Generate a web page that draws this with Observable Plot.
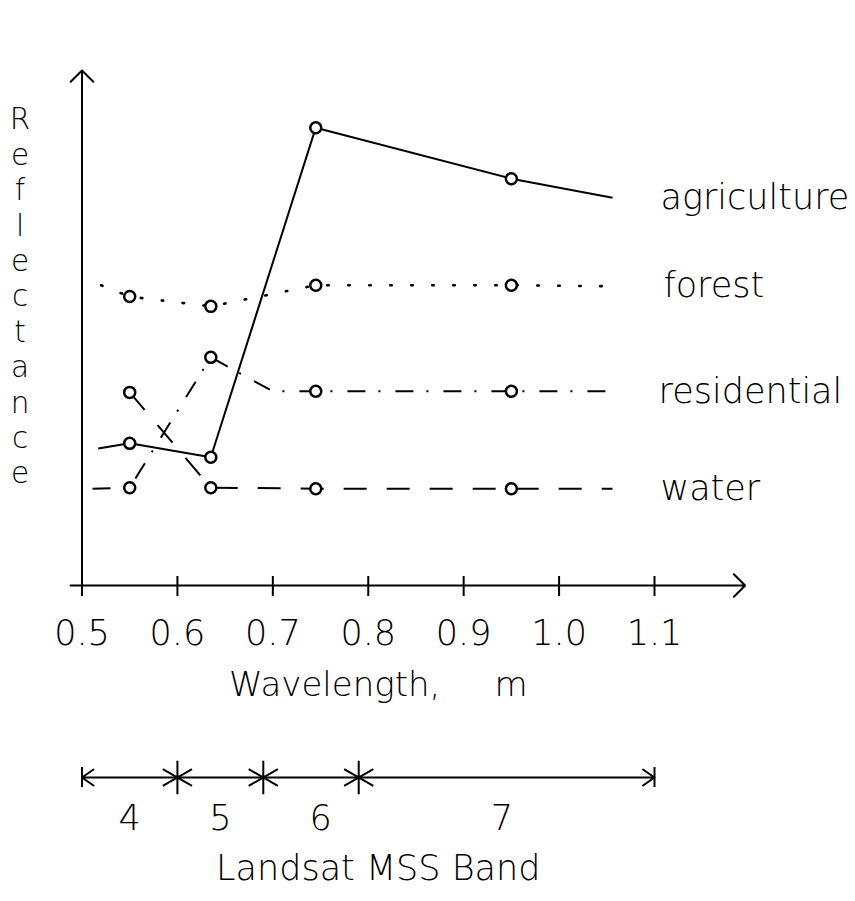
<!DOCTYPE html>
<html><head><meta charset="utf-8">
<script src="https://cdn.jsdelivr.net/npm/d3@7"></script>
<script src="https://cdn.jsdelivr.net/npm/@observablehq/plot@0.6"></script>
<style>
body{margin:0;background:#fff;}
#chart{width:855px;}
#chart svg{display:block;}
</style></head><body><div id="chart"></div>
<script>
// ---- data ----
const seriesNames = ["agriculture", "forest", "residential", "water"];
const agricultureX = [0.517, 0.55, 0.635, 0.745, 0.95, 1.056];
const agricultureY = [26.6, 27.6, 24.9, 88.9, 79.0, 75.3];
const forestX = [0.52, 0.55, 0.635, 0.745, 0.95, 1.059];
const forestY = [58.3, 56.1, 54.2, 58.3, 58.3, 58.1];
const residentialX = [0.511, 0.55, 0.635, 0.70, 0.745, 0.95, 1.054];
const residentialY = [18.8, 19.0, 44.3, 37.7, 37.7, 37.7, 37.7];
const waterX = [0.55, 0.635, 0.745, 0.95, 1.056];
const waterY = [37.5, 19.0, 18.8, 18.8, 18.8];
const bandCenters = [0.55, 0.635, 0.745, 0.95];
const xTicks = [0.5, 0.6, 0.7, 0.8, 0.9, 1.0, 1.1];
const xTickLabels = ["0.5", "0.6", "0.7", "0.8", "0.9", "1.0", "1.1"];
const bandEdges = [0.5, 1.1];
const bandBreaks = [0.6, 0.69, 0.79];
const bandNames = ["4", "5", "6", "7"];
const bandLabelX = [0.55, 0.645, 0.75, 0.94];
const xLabel = "Wavelength,\u00a0\u00a0\u00a0\u00a0\u00a0m";
const yLabel = "Reflectance";
const bandLabel = "Landsat MSS Band";
const xAxisExtent = [0.488, 1.195];
const yAxisExtent = [0, 100];

// ---- build tables ----
const xs = {agriculture: agricultureX, forest: forestX, residential: residentialX, water: waterX};
const ys = {agriculture: agricultureY, forest: forestY, residential: residentialY, water: waterY};
const rows = seriesNames.flatMap(s => xs[s].map((x, i) => ({series: s, x, y: ys[s][i]})));
const markers = rows.filter(d => bandCenters.includes(d.x));
const dashes = {agriculture: null, forest: "1.5,19.5", residential: "18,13,2,15", water: "23,20"};

const FONT = "DejaVu Sans";
const W = 855;

const lineMarks = seriesNames.map(s => Plot.line(rows.filter(d => d.series === s), {
  x: "x", y: "y", stroke: "black", strokeWidth: s === "forest" ? 2.6 : 2,
  strokeDasharray: dashes[s], strokeLinecap: s === "forest" ? "round" : "butt"
}));

const main = Plot.plot({
  width: W, height: 730,
  marginLeft: 81.5, marginRight: W - 654, marginTop: 70, marginBottom: 145,
  style: {fontFamily: FONT, fontWeight: 200, background: "white", color: "black", overflow: "visible"},
  x: {type: "linear", domain: [0.5, 1.1]},
  y: {type: "linear", domain: [0, 100], axis: null},
  marks: [
    ...lineMarks,
    Plot.dot(markers, {x: "x", y: "y", r: 5.5, stroke: "black", strokeWidth: 2.5, fill: "white"}),
    Plot.arrow([{x1: xAxisExtent[0], x2: xAxisExtent[1], y1: 0, y2: 0}],
      {x1: "x1", x2: "x2", y1: "y1", y2: "y2", stroke: "black", strokeWidth: 2, headLength: 12, headAngle: 90}),
    Plot.arrow([{x: 0.5, y1: yAxisExtent[0], y2: yAxisExtent[1]}],
      {x1: "x", x2: "x", y1: "y1", y2: "y2", stroke: "black", strokeWidth: 2, headLength: 12, headAngle: 90}),
    Plot.tickX(xTicks, {x: d => d, stroke: "black", strokeWidth: 2, insetTop: 506, insetBottom: -11}),
    Plot.axisX(xTicks, {tickSize: 0, tickPadding: 35, fontSize: 35, label: null,
      tickFormat: d => xTickLabels[xTicks.indexOf(d)]}),
    Plot.text([xLabel], {frameAnchor: "bottom", dx: 10, dy: 110, fontSize: 34, fill: "black"}),
    Plot.text([yLabel.split("").join("\n")], {frameAnchor: "left", dx: -62, dy: -33,
      lineHeight: 1.2, fontSize: 29.5, fill: "black", textAnchor: "middle"}),
    Plot.text(rows, Plot.selectLast({x: "x", y: "y", z: "series", text: "series",
      dx: 48, textAnchor: "start", fontSize: 35, fill: "black"}))
  ]
});

const band = Plot.plot({
  width: W, height: 171,
  marginLeft: 81.5, marginRight: W - 654, marginTop: 27, marginBottom: 104,
  style: {fontFamily: FONT, fontWeight: 200, background: "white", color: "black", overflow: "visible"},
  x: {type: "linear", domain: [0.5, 1.1], axis: null},
  y: {type: "linear", domain: [-1, 1], axis: null},
  marks: [
    Plot.arrow(bandEdges.map(e => ({from: bandBreaks[bandBreaks.length - 1], to: e})),
      {x1: "from", x2: "to", y1: () => 0, y2: () => 0, stroke: "black", strokeWidth: 2, headLength: 10.5, headAngle: 70}),
    Plot.tickX(bandEdges, {x: d => d, stroke: "black", strokeWidth: 2, insetTop: 10, insetBottom: 10}),
    Plot.dot(bandBreaks, {x: d => d, y: () => 0, symbol: "asterisk", r: 16, stroke: "black", strokeWidth: 2}),
    Plot.text(bandNames, {x: (d, i) => bandLabelX[i], y: () => 0, dy: 41, fontSize: 35, fill: "black"}),
    Plot.text([bandLabel], {frameAnchor: "bottom", dx: 10, dy: 82, fontSize: 35, fill: "black"})
  ]
});

document.getElementById("chart").append(main, band);
</script>
</body></html>
